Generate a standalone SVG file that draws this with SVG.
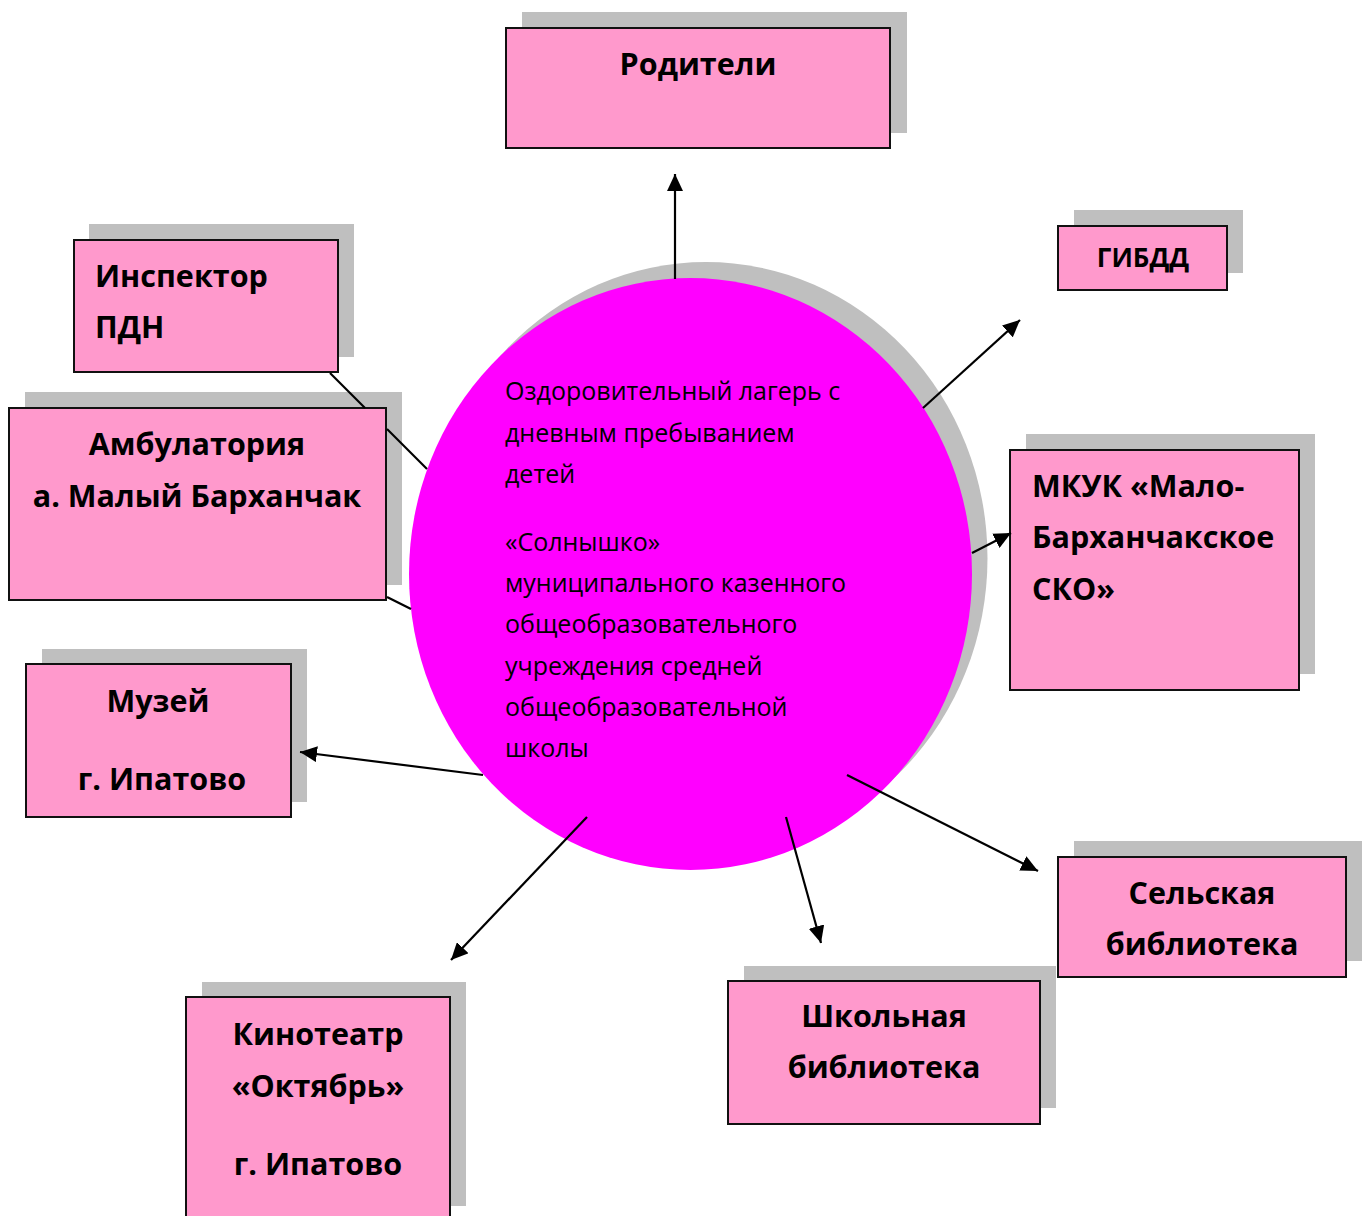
<svg xmlns="http://www.w3.org/2000/svg" width="1370" height="1216" viewBox="0 0 1370 1216">
<style>
.sh{fill:#BFBFBF}
.bx{fill:#FF99CC;stroke:#111;stroke-width:2}
.t{font-family:"Open Sans","DejaVu Sans",sans-serif;font-weight:bold;font-size:30.5px;fill:#000}
.c{text-anchor:middle}
.ct{font-family:"Open Sans","DejaVu Sans",sans-serif;font-size:25px;fill:#000}
.ln{stroke:#000;stroke-width:2.2;fill:none}
</style>
<defs>
<marker id="ah" markerUnits="userSpaceOnUse" markerWidth="18" markerHeight="16" refX="17" refY="8" orient="auto">
<path d="M0,0 L17,8 L0,16 Z" fill="#000"/>
</marker>
</defs>
<rect width="1370" height="1216" fill="#fff"/>
<g id="center">
<ellipse cx="706" cy="558" rx="281.5" ry="296" class="sh"/>
<ellipse cx="690.5" cy="574" rx="281.5" ry="296" fill="#FF00FF"/>
<text class="ct" x="505" y="400">Оздоровительный лагерь с</text>
<text class="ct" x="505" y="442">дневным пребыванием</text>
<text class="ct" x="505" y="483">детей</text>
<text class="ct" x="505" y="551">«Солнышко»</text>
<text class="ct" x="505" y="592">муниципального казенного</text>
<text class="ct" x="505" y="633">общеобразовательного</text>
<text class="ct" x="505" y="675">учреждения средней</text>
<text class="ct" x="505" y="716">общеобразовательной</text>
<text class="ct" x="505" y="757">школы</text>
</g>
<g id="roditeli">
<rect class="sh" x="522" y="12" width="385" height="121"/>
<rect class="bx" x="506" y="28" width="384" height="120"/>
<text class="t c" x="698" y="75">Родители</text>
</g>
<g id="inspektor">
<rect class="sh" x="89" y="224" width="265" height="133"/>
<rect class="bx" x="74" y="240" width="264" height="132"/>
<text class="t" x="95" y="287">Инспектор</text>
<text class="t" x="95" y="338">ПДН</text>
</g>
<g id="ambulatoria">
<rect class="sh" x="25" y="392" width="377" height="193"/>
<rect class="bx" x="9" y="408" width="377" height="192"/>
<text class="t c" x="197" y="455">Амбулатория</text>
<text class="t c" x="197" y="507">а. Малый Барханчак</text>
</g>
<g id="muzei">
<rect class="sh" x="42" y="649" width="265" height="153"/>
<rect class="bx" x="26" y="664" width="265" height="153"/>
<text class="t c" x="158" y="712">Музей</text>
<text class="t c" x="162" y="790">г. Ипатово</text>
</g>
<g id="kinoteatr">
<rect class="sh" x="202" y="982" width="264" height="224"/>
<rect class="bx" x="186" y="997" width="264" height="240"/>
<text class="t c" x="318" y="1045">Кинотеатр</text>
<text class="t c" x="318" y="1097">«Октябрь»</text>
<text class="t c" x="318" y="1175">г. Ипатово</text>
</g>
<g id="shkolnaya">
<rect class="sh" x="744" y="966" width="312" height="142"/>
<rect class="bx" x="728" y="981" width="312" height="143"/>
<text class="t c" x="884" y="1027">Школьная</text>
<text class="t c" x="884" y="1078">библиотека</text>
</g>
<g id="selskaya">
<rect class="sh" x="1074" y="841" width="288" height="120"/>
<rect class="bx" x="1058" y="857" width="288" height="120"/>
<text class="t c" x="1202" y="904">Сельская</text>
<text class="t c" x="1202" y="955">библиотека</text>
</g>
<g id="mkuk">
<rect class="sh" x="1026" y="434" width="289" height="240"/>
<rect class="bx" x="1010" y="450" width="289" height="240"/>
<text class="t" x="1032" y="497">МКУК «Мало-</text>
<text class="t" x="1032" y="548">Барханчакское</text>
<text class="t" x="1032" y="600">СКО»</text>
</g>
<g id="gibdd">
<rect class="sh" x="1074" y="210" width="169" height="63"/>
<rect class="bx" x="1058" y="226" width="169" height="64"/>
<text class="t c" x="1143" y="267" style="font-size:26px">ГИБДД</text>
</g>
<g id="connectors">
<line class="ln" x1="675" y1="279" x2="675" y2="174" marker-end="url(#ah)"/>
<line class="ln" x1="923" y1="408" x2="1020" y2="320" marker-end="url(#ah)"/>
<line class="ln" x1="972" y1="553" x2="1011" y2="533" marker-end="url(#ah)"/>
<line class="ln" x1="847" y1="775" x2="1038" y2="871" marker-end="url(#ah)"/>
<line class="ln" x1="786" y1="817" x2="821" y2="943" marker-end="url(#ah)"/>
<line class="ln" x1="587" y1="817" x2="451" y2="960" marker-end="url(#ah)"/>
<line class="ln" x1="483" y1="775" x2="300" y2="752" marker-end="url(#ah)"/>
<line class="ln" x1="330" y1="373" x2="365" y2="408"/>
<line class="ln" x1="387" y1="429" x2="427" y2="469"/>
<line class="ln" x1="387" y1="597" x2="411" y2="609"/>
</g>
</svg>
